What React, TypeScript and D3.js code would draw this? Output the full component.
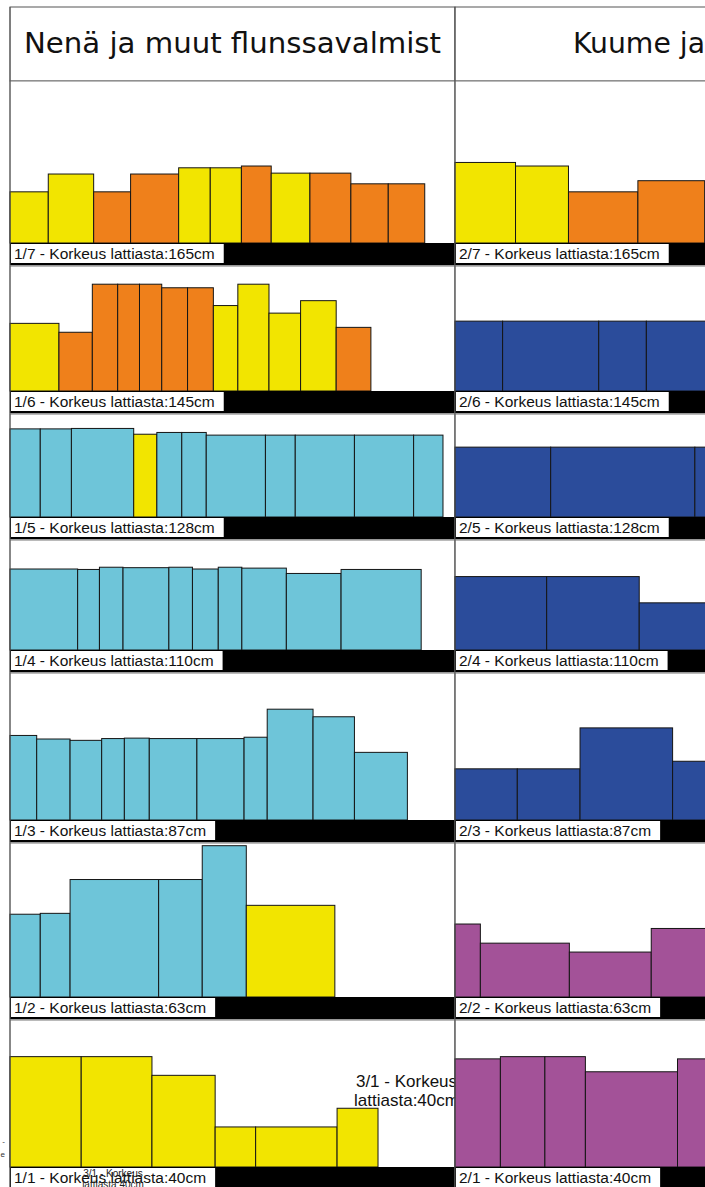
import React from "react";
import * as d3 from "d3";

// shelf heights from floor, top shelf first (7 -> 1)
const shelfLevels = ["165", "145", "128", "110", "87", "63", "40"];
const shelfNumbers = [7, 6, 5, 4, 3, 2, 1];
const headers = ["Nenä ja muut flunssavalmist", "Kuume ja"];

// product facings per shelf, widths and heights in cm
const col1Widths = [
  [8.6, 10.2, 8.3, 10.8, 7.1, 7.0, 6.7, 8.7, 9.2, 8.4, 8.2],
  [11.0, 7.5, 5.7, 4.9, 5.0, 5.8, 5.8, 5.5, 7.0, 7.1, 8.0, 7.8],
  [6.8, 7.0, 14.0, 5.2, 5.6, 5.5, 13.3, 6.7, 13.3, 13.3, 6.6],
  [15.2, 4.9, 5.3, 10.3, 5.3, 5.8, 5.3, 10.0, 12.3, 18.0],
  [6.0, 7.5, 7.1, 5.1, 5.6, 10.7, 10.6, 5.2, 10.3, 9.3, 11.9],
  [6.8, 6.7, 19.9, 9.8, 9.9, 19.9],
  [16.0, 15.9, 14.2, 9.1, 18.3, 9.2],
];
const col1Heights = [
  [11.5, 15.5, 11.5, 15.5, 16.9, 16.9, 17.3, 15.7, 15.7, 13.3, 13.3],
  [15.2, 13.2, 24.0, 24.0, 24.0, 23.2, 23.2, 19.2, 24.0, 17.5, 20.3, 14.3],
  [19.8, 19.8, 19.9, 18.6, 19.0, 19.0, 18.4, 18.4, 18.4, 18.4, 18.4],
  [18.2, 18.1, 18.6, 18.5, 18.6, 18.2, 18.6, 18.4, 17.2, 18.1],
  [19.0, 18.2, 17.9, 18.3, 18.4, 18.3, 18.3, 18.6, 24.9, 23.2, 15.2],
  [18.6, 18.8, 26.4, 26.4, 34.0, 20.6],
  [24.8, 24.8, 20.6, 9.0, 9.0, 13.2],
];
const col1Groups = [
  ["Y", "Y", "O", "O", "Y", "Y", "O", "Y", "O", "O", "O"],
  ["Y", "O", "O", "O", "O", "O", "O", "Y", "Y", "Y", "Y", "O"],
  ["C", "C", "C", "Y", "C", "C", "C", "C", "C", "C", "C"],
  ["C", "C", "C", "C", "C", "C", "C", "C", "C", "C"],
  ["C", "C", "C", "C", "C", "C", "C", "C", "C", "C", "C"],
  ["C", "C", "C", "C", "C", "Y"],
  ["Y", "Y", "Y", "Y", "Y", "Y"],
];

const col2Widths = [
  [13.6, 11.9, 15.6, 15.0],
  [10.7, 21.6, 10.7, 21.6],
  [21.5, 32.4, 21.5],
  [20.6, 20.8, 20.6],
  [14.0, 14.1, 20.8, 14.0],
  [5.7, 20.0, 18.4, 13.5],
  [10.2, 10.0, 9.1, 20.7, 10.1],
];
const col2Heights = [
  [18.1, 17.3, 11.5, 14.0],
  [15.7, 15.7, 15.7, 15.7],
  [15.7, 15.7, 15.7],
  [16.5, 16.5, 10.6],
  [11.5, 11.5, 20.7, 13.2],
  [16.4, 12.1, 10.1, 15.4],
  [24.3, 24.8, 24.8, 21.4, 24.3],
];
const col2Groups = [
  ["Y", "Y", "O", "O"],
  ["B", "B", "B", "B"],
  ["B", "B", "B"],
  ["B", "B", "B"],
  ["B", "B", "B", "B"],
  ["P", "P", "P", "P"],
  ["P", "P", "P", "P", "P"],
];

const overlayLabel = ["3/1 - Korkeus", "lattiasta:40cm"];

const W = 705;
const H = 1187;
const colX = [10, 455];
const colW = 445;
const headerTop = 7;
const headerBottom = 81;
const shelfBase = [243, 391, 517, 650, 820, 997, 1167];
const barH = 22;
const labelFont = "'Liberation Sans', Arial, sans-serif";

const color = d3
  .scaleOrdinal<string, string>()
  .domain(["Y", "O", "C", "B", "P"])
  .range(["#f2e500", "#ef801b", "#6ec5d9", "#2b4c9b", "#a35298"]);

// cm -> px
const scale = d3.scaleLinear().domain([0, 100]).range([0, colW]);

let ctx: CanvasRenderingContext2D | null = null;
function textWidth(s: string) {
  if (!ctx) ctx = document.createElement("canvas").getContext("2d");
  if (!ctx) return s.length * 7.5;
  ctx.font = `15.5px ${labelFont}`;
  return ctx.measureText(s).width;
}

function Column({ ci, widths, heights, groups }: any) {
  const x0 = colX[ci];
  return (
    <g>
      <rect x={x0} y={headerTop} width={colW} height={H} fill="white" />
      <rect
        x={x0}
        y={headerTop}
        width={colW}
        height={headerBottom - headerTop}
        fill="white"
        stroke="#555"
        strokeWidth={1}
      />
      {shelfBase.map((base, si) => {
        const top = si === 0 ? headerBottom : shelfBase[si - 1] + barH + 1;
        const xs = [0, ...d3.cumsum(widths[si] as number[])];
        const label = `${ci + 1}/${shelfNumbers[si]} - Korkeus lattiasta:${shelfLevels[si]}cm`;
        const lw = textWidth(label) + 12;
        return (
          <g key={si}>
            <rect
              x={x0}
              y={top}
              width={colW}
              height={base + barH - top}
              fill="white"
              stroke="#777"
              strokeWidth={1}
            />
            {(widths[si] as number[]).map((w, i) => {
              const h = scale(heights[si][i]);
              return (
                <rect
                  key={i}
                  x={x0 + scale(xs[i])}
                  y={base - h}
                  width={scale(w)}
                  height={h}
                  fill={color(groups[si][i])}
                  stroke="#151515"
                  strokeWidth={1}
                />
              );
            })}
            <rect x={x0} y={base} width={colW} height={barH} fill="black" />
            <rect x={x0 + 1} y={base + 1} width={lw} height={barH - 3} fill="white" />
            <text
              x={x0 + 4}
              y={base + 16}
              fontSize={15.5}
              fontFamily={labelFont}
              fill="#111"
            >
              {label}
            </text>
          </g>
        );
      })}
    </g>
  );
}

export default function App() {
  return (
    <div
      style={{
        position: "fixed",
        left: 0,
        top: 0,
        width: W,
        height: H,
        overflow: "hidden",
        background: "white",
      }}
    >
      <svg width={W} height={H} style={{ display: "block" }}>
        <rect width={W} height={H} fill="white" />
        {/* cut-off text from a neighbouring fixture on the far left */}
        <text x={5} y={1144} fontSize={8} textAnchor="end" fontFamily={labelFont} fill="#333">
          -
        </text>
        <text x={5} y={1157} fontSize={8} textAnchor="end" fontFamily={labelFont} fill="#333">
          e
        </text>
        <Column ci={0} widths={col1Widths} heights={col1Heights} groups={col1Groups} />
        <text
          x={(colX[0] + colX[1]) / 2}
          y={53}
          textAnchor="middle"
          fontSize={29}
          textLength={417}
          lengthAdjust="spacingAndGlyphs"
          fontFamily="'Liberation Sans Narrow', 'DejaVu Sans Condensed', 'Liberation Sans', sans-serif"
          fill="#111"
        >
          {headers[0]}
        </text>
        {overlayLabel.map((t, i) => (
          <text
            key={i}
            x={406.5}
            y={1087 + i * 19}
            textAnchor="middle"
            fontSize={17}
            fontFamily={labelFont}
            fill="#111"
          >
            {t}
          </text>
        ))}
        <Column ci={1} widths={col2Widths} heights={col2Heights} groups={col2Groups} />
        <text
          x={573}
          y={53}
          fontSize={29}
          textLength={132}
          lengthAdjust="spacingAndGlyphs"
          fontFamily="'Liberation Sans Narrow', 'DejaVu Sans Condensed', 'Liberation Sans', sans-serif"
          fill="#111"
        >
          {headers[1]}
        </text>
        <line x1={colX[0]} x2={colX[0]} y1={headerTop} y2={H} stroke="#555" />
        <line x1={colX[1]} x2={colX[1]} y1={headerTop} y2={H} stroke="#555" />
        {overlayLabel.map((t, i) => (
          <text
            key={i}
            x={113}
            y={1177 + i * 11}
            textAnchor="middle"
            fontSize={10}
            fontFamily={labelFont}
            fill="#222"
          >
            {t}
          </text>
        ))}
      </svg>
    </div>
  );
}
